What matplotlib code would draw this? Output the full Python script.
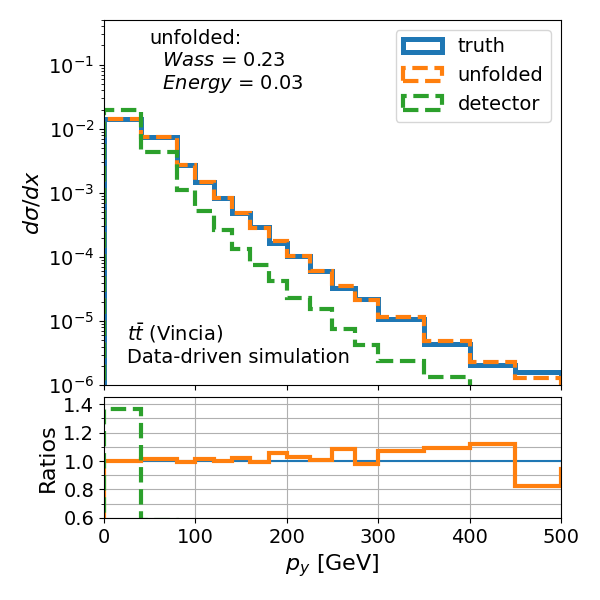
import numpy as np
import matplotlib
matplotlib.use("Agg")
import matplotlib.pyplot as plt
from matplotlib.ticker import MultipleLocator

# bin edges in p_y [GeV]; last bin lies past the plotted range
edges = [0, 40, 80, 100, 120, 140, 160, 180, 200, 225, 250, 275, 300, 350, 400, 450, 500, 550]

truth = [1.44e-2, 7.5e-3, 2.72e-3, 1.47e-3, 8.4e-4, 4.85e-4, 2.9e-4, 1.67e-4, 1.02e-4,
         6.05e-5, 3.25e-5, 2.2e-5, 1.09e-5, 4.45e-6, 2.03e-6, 1.58e-6, 9.5e-7]
unfolded = [1.443e-2, 7.59e-3, 2.70e-3, 1.488e-3, 8.42e-4, 4.94e-4, 2.88e-4, 1.76e-4, 1.05e-4,
            6.09e-5, 3.53e-5, 2.15e-5, 1.17e-5, 4.87e-6, 2.28e-6, 1.305e-6, 9.0e-7]
detector = [1.97e-2, 4.41e-3, 1.12e-3, 5.2e-4, 2.6e-4, 1.32e-4, 7.5e-5, 4.2e-5, 2.3e-5,
            1.52e-5, 7.6e-6, 4.2e-6, 2.37e-6, 1.35e-6, 7e-7, 5e-7, 4e-7]

labels = ["truth", "unfolded", "detector"]
colors = ["C0", "C1", "C2"]

plt.rcParams["font.size"] = 14

fig = plt.figure(figsize=(6, 6), dpi=100)
ax = fig.add_axes([0.1733, 0.358, 0.7617, 0.6087])
rax = fig.add_axes([0.1733, 0.137, 0.7617, 0.201], sharex=ax)

centers = np.array(edges[:-1])
t = np.array(truth)

# main panel: truth solid, the others dashed
for vals, lab, col, ls, lw in zip([truth, unfolded, detector], labels, colors,
                                  ["-", "--", "--"], [3.6, 3, 3]):
    ax.hist(centers, bins=edges, weights=vals, histtype="step", color=col,
            ls=ls, lw=lw, label=lab)

# ratio panel: ratio to truth
for vals, col, ls, lw in zip([truth, unfolded, detector], colors,
                             ["-", "-", "--"], [1.5, 3, 3]):
    rax.hist(centers, bins=edges, weights=np.array(vals) / t, histtype="step",
             color=col, ls=ls, lw=lw)

ax.set_yscale("log")
ax.set_ylim(1e-6, 0.5)
ax.set_xlim(0, 500)
ax.set_ylabel(r"$d\sigma/dx$", fontsize=16)
ax.tick_params(labelbottom=False)
ax.legend(loc="upper right", fontsize=14)
ax.text(0.1, 0.975, "unfolded:\n  $Wass$ = 0.23\n  $Energy$ = 0.03",
        transform=ax.transAxes, va="top", ha="left")
ax.text(0.05, 0.05, "$t\\bar{t}$ (Vincia)\nData-driven simulation",
        transform=ax.transAxes, va="bottom", ha="left")

rax.set_ylim(0.6, 1.45)
rax.yaxis.set_major_locator(MultipleLocator(0.2))
rax.yaxis.set_minor_locator(MultipleLocator(0.1))
rax.grid(True, which="both")
rax.set_ylabel("Ratios", fontsize=16)
rax.set_xlabel("$p_y$ [GeV]", fontsize=16)

fig.savefig("out.png", dpi=100)
